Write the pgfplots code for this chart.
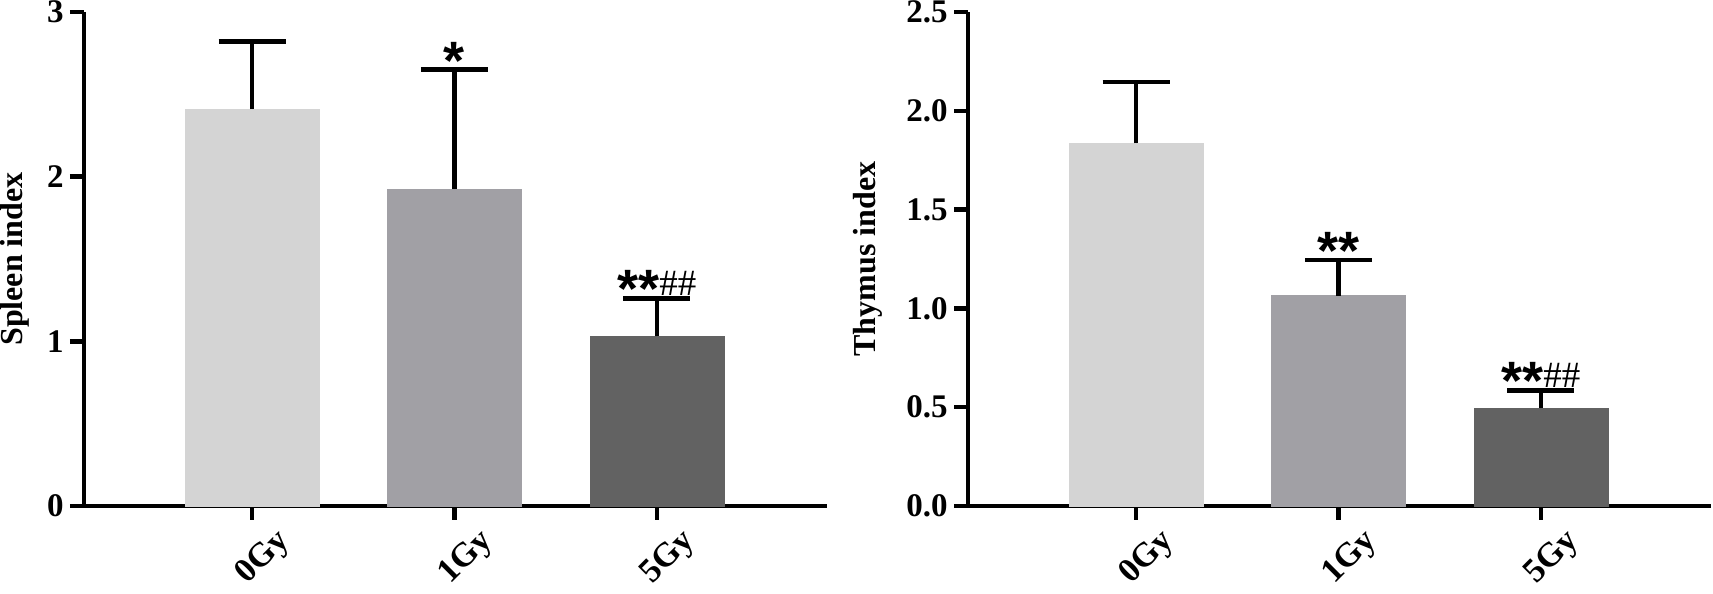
\documentclass[border=0pt]{standalone}
\usepackage{fontspec}
\setmainfont{Liberation Serif}
\newfontfamily\sansf{Liberation Sans}
\usepackage{pgfplots}
\pgfplotsset{compat=1.18}
\definecolor{c0}{HTML}{D4D4D4}
\definecolor{c1}{HTML}{A1A0A5}
\definecolor{c5}{HTML}{626262}
\newcommand{\sig}{\sansf\bfseries\fontsize{27}{27}\selectfont}
\newcommand{\hsh}{\fontsize{18.5}{18.5}\selectfont}
\pgfplotsset{
 myax/.style={
  scale only axis, width=371.5pt, height=247pt,
  anchor=south west,
  xmin=-0.83, xmax=2.84, ymin=0,
  axis x line*=bottom, axis y line*=left,
  axis line style={line width=2.25pt,-},
  tick align=outside,
  major tick length=7pt,
  tick style={line width=2.25pt, black},
  xtick={0,1,2}, xticklabels={0Gy,1Gy,5Gy},
  ticklabel style={font=\bfseries\fontsize{16.5}{18}\selectfont},
  /pgf/number format/assume math mode=true,
  xticklabel style={rotate=45, anchor=north east, inner sep=0pt, xshift=6pt, yshift=-10pt, font=\bfseries\fontsize{17}{18}\selectfont},
  yticklabel style={inner sep=0pt, xshift=-3pt},
  clip=false,
  ybar, bar width=67pt,
  every axis plot/.append style={bar shift=0pt},
  error bars/y dir=plus, error bars/y explicit,
  error bars/error bar style={line width=2.25pt, black},
  error bars/error mark options={rotate=90, mark size=16.75pt, line width=2.25pt, black},
 }
}
\begin{document}
\begin{tikzpicture}
\path[use as bounding box] (0,0) rectangle (856.5pt,297pt);
\begin{axis}[myax, at={(42pt,44pt)}, ymax=3, ytick={0,1,2,3},
  ylabel={Spleen index},
  every axis y label/.style={at={(axis description cs:0,0.5)}, xshift=-27pt, rotate=90, anchor=south, inner sep=0pt, font=\bfseries\fontsize{16}{18}\selectfont}]
\addplot[fill=c0, draw=c0, bar shift=0pt] coordinates {(0,2.41) +- (0,0.41)};
\addplot[fill=c1, draw=c1, bar shift=0pt] coordinates {(1,1.925) +- (0,0.725)};
\addplot[fill=c5, draw=c5, bar shift=0pt] coordinates {(2,1.03) +- (0,0.23)};
\node[anchor=base, inner sep=0pt, yshift=-5pt] at (axis cs:1,2.65) {\sig *};
\node[anchor=base, inner sep=0pt, yshift=1.5pt] at (axis cs:2,1.26) {\raisebox{-6pt}{\sig **}\hsh\#\#};
\end{axis}
\begin{axis}[myax, at={(484pt,44pt)}, ymax=2.5, ytick={0,0.5,1,1.5,2,2.5},
  yticklabel style={/pgf/number format/.cd, fixed, fixed zerofill, precision=1},
  ylabel={Thymus index},
  every axis y label/.style={at={(axis description cs:0,0.5)}, xshift=-42.5pt, rotate=90, anchor=south, inner sep=0pt, font=\bfseries\fontsize{16}{18}\selectfont}]
\addplot[fill=c0, draw=c0, bar shift=0pt] coordinates {(0,1.835) +- (0,0.31)};
\addplot[fill=c1, draw=c1, bar shift=0pt] coordinates {(1,1.065) +- (0,0.18)};
\addplot[fill=c5, draw=c5, bar shift=0pt] coordinates {(2,0.495) +- (0,0.09)};
\node[anchor=base, inner sep=0pt, yshift=-5pt] at (axis cs:1,1.245) {\sig **};
\node[anchor=base, inner sep=0pt, yshift=1.5pt] at (axis cs:2,0.585) {\raisebox{-6pt}{\sig **}\hsh\#\#};
\end{axis}
\end{tikzpicture}
\end{document}
